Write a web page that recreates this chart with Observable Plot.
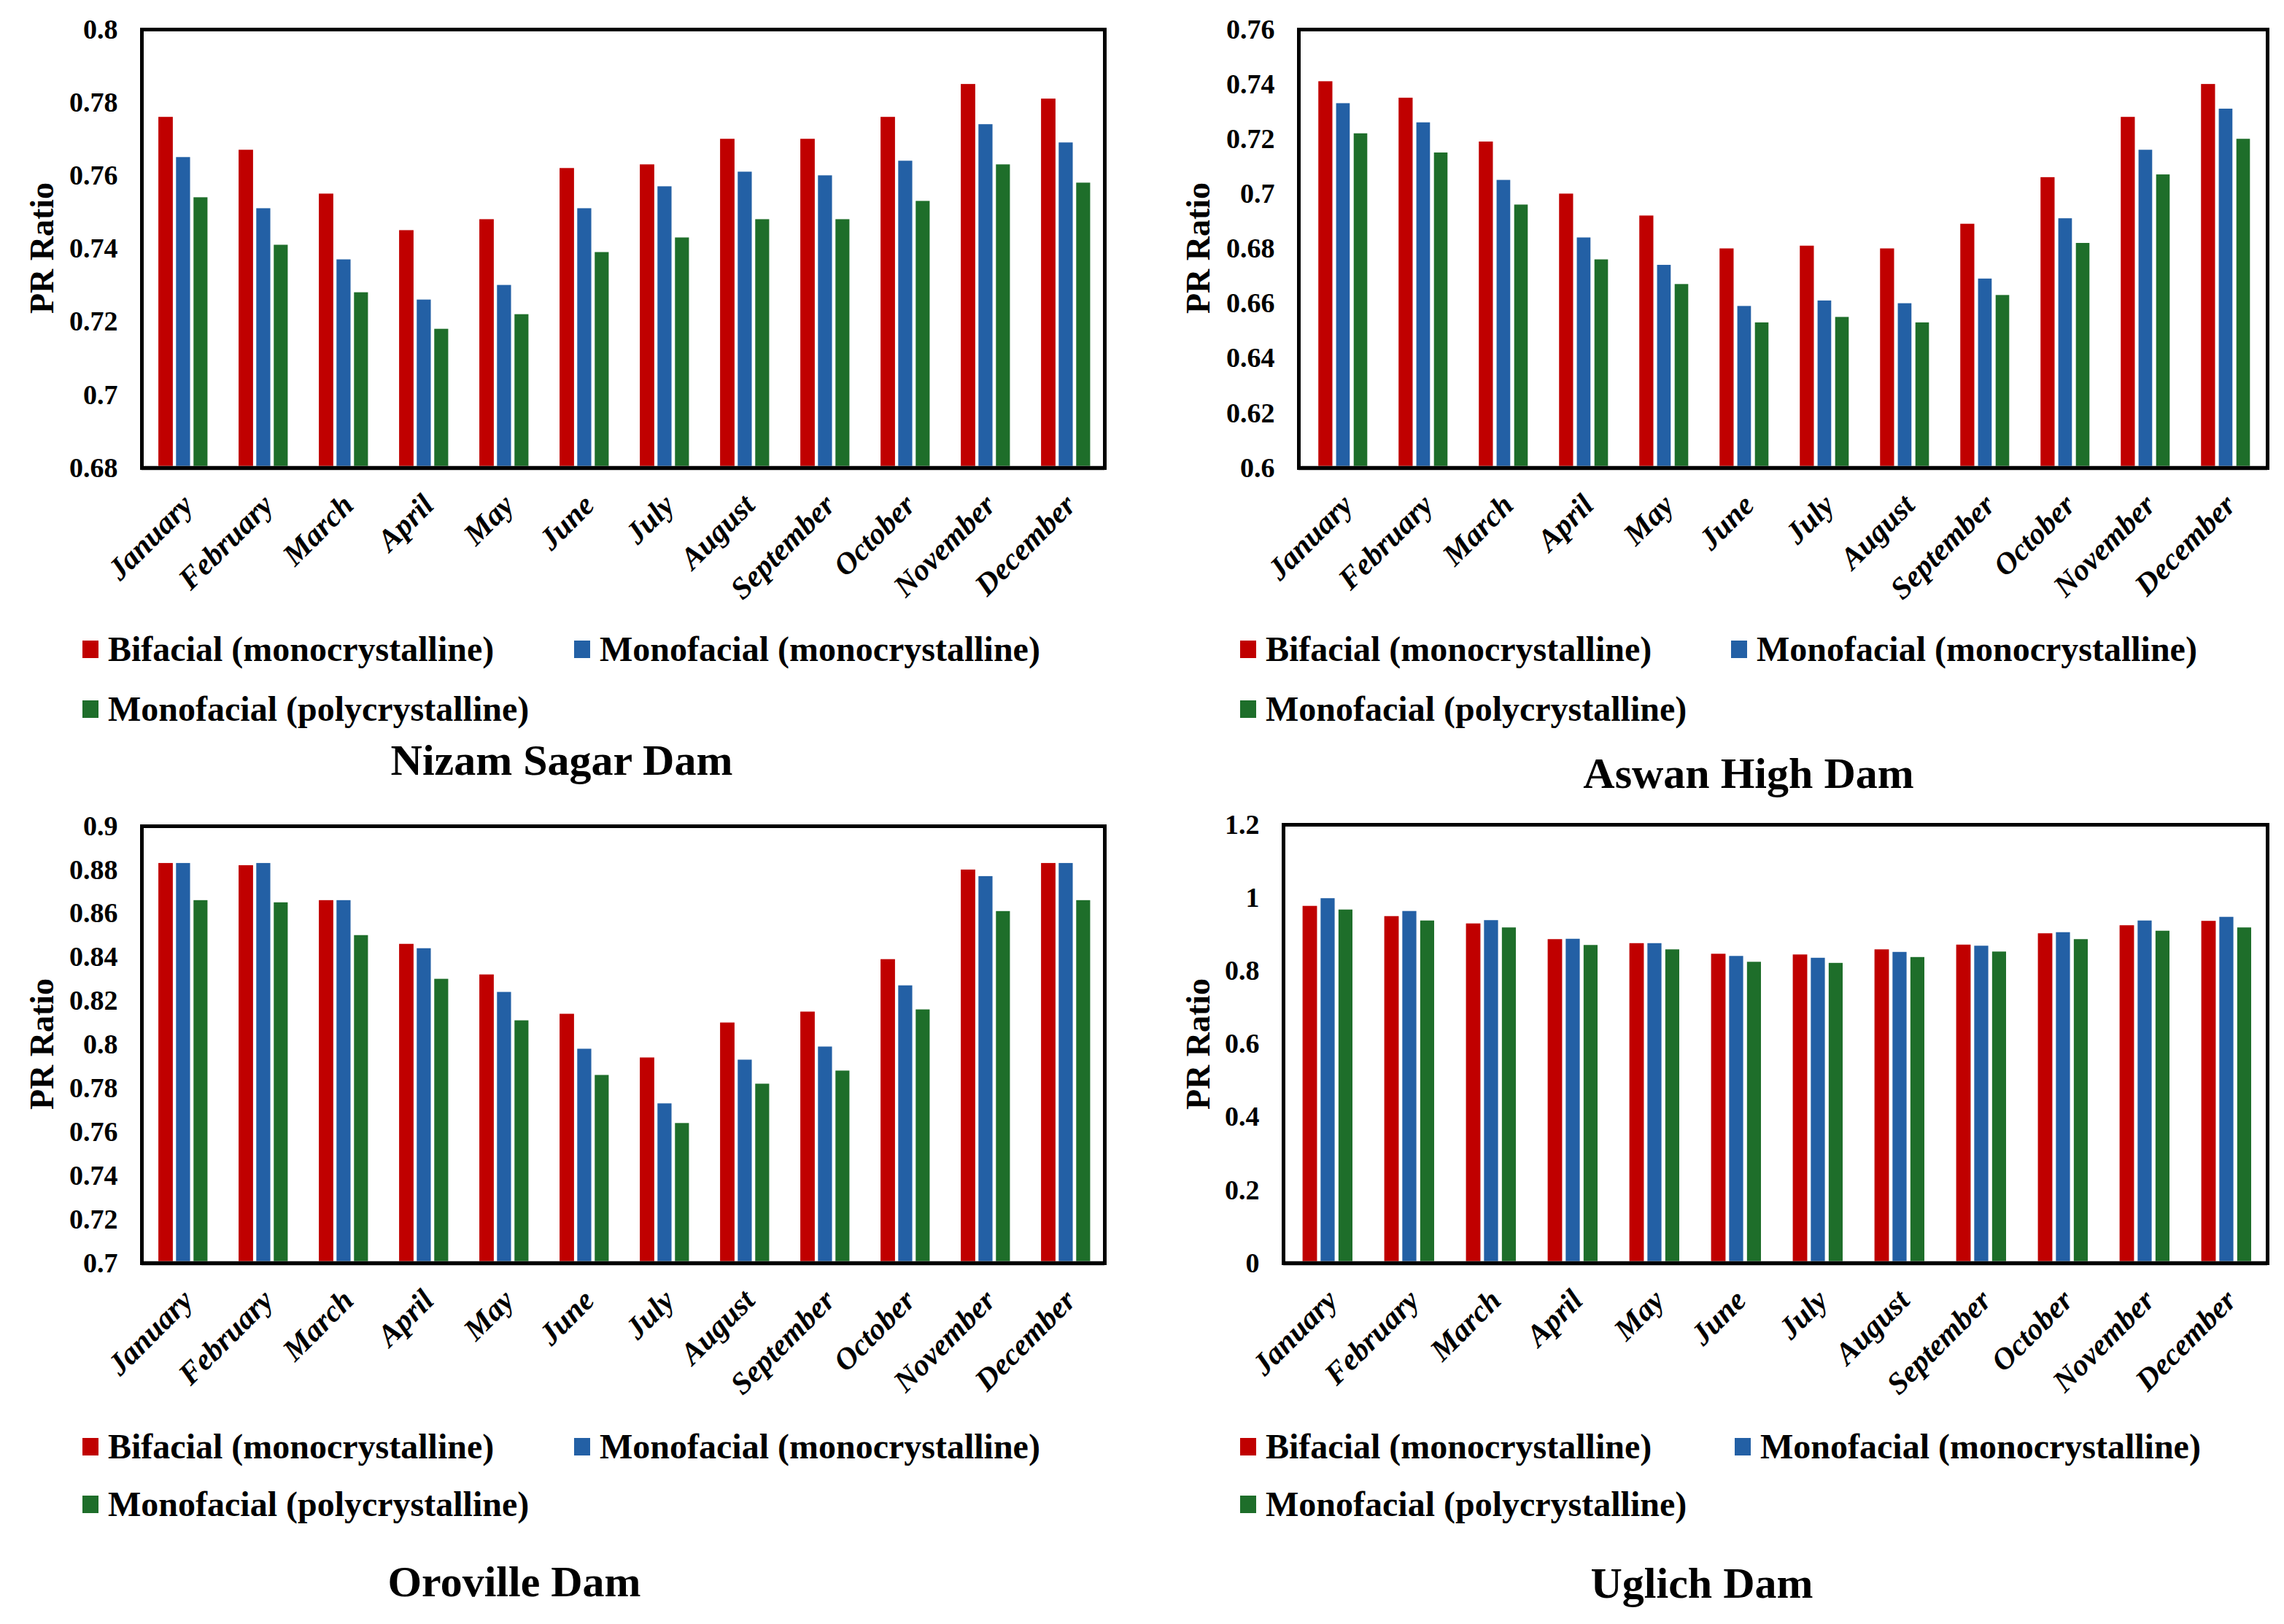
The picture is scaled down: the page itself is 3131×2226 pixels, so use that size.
<!DOCTYPE html>
<html><head><meta charset="utf-8">
<script src="https://cdn.jsdelivr.net/npm/d3@7"></script>
<script src="https://cdn.jsdelivr.net/npm/@observablehq/plot@0.6"></script>
<style>
html,body{margin:0;padding:0;background:#fff;}
#page{position:relative;width:3131px;height:2226px;overflow:hidden;font-family:"Liberation Serif","Times New Roman",serif;font-weight:bold;color:#000;background:#fff;}
.panel{position:absolute;}
.ylab{position:absolute;font-size:46px;white-space:nowrap;transform:translate(-50%,-50%) rotate(-90deg);}
.leg{position:absolute;font-size:48px;white-space:nowrap;display:flex;align-items:center;line-height:1;transform:translateY(-50%);}
.sw{display:inline-block;width:22px;height:24px;margin-right:13px;}
.title{position:absolute;font-size:60px;white-space:nowrap;transform:translate(-50%,-50%);}
#page g[aria-label="x-axis tick label"]{font-style:italic;}
</style></head><body><div id="page"></div>
<script>
const months = ["January","February","March","April","May","June","July","August","September","October","November","December"];
const seriesNames = ["Bifacial (monocrystalline)","Monofacial (monocrystalline)","Monofacial (polycrystalline)"];
const seriesColors = ["#C00000","#2360A5","#1E6E2A"];

const nizamBifacial   = [0.776,0.767,0.755,0.745,0.748,0.762,0.763,0.770,0.770,0.776,0.785,0.781];
const nizamMonoMono   = [0.765,0.751,0.737,0.726,0.730,0.751,0.757,0.761,0.760,0.764,0.774,0.769];
const nizamMonoPoly   = [0.754,0.741,0.728,0.718,0.722,0.739,0.743,0.748,0.748,0.753,0.763,0.758];

const aswanBifacial   = [0.741,0.735,0.719,0.700,0.692,0.680,0.681,0.680,0.689,0.706,0.728,0.740];
const aswanMonoMono   = [0.733,0.726,0.705,0.684,0.674,0.659,0.661,0.660,0.669,0.691,0.716,0.731];
const aswanMonoPoly   = [0.722,0.715,0.696,0.676,0.667,0.653,0.655,0.653,0.663,0.682,0.707,0.720];

const orovilleBifacial = [0.883,0.882,0.866,0.846,0.832,0.814,0.794,0.810,0.815,0.839,0.880,0.883];
const orovilleMonoMono = [0.883,0.883,0.866,0.844,0.824,0.798,0.773,0.793,0.799,0.827,0.877,0.883];
const orovilleMonoPoly = [0.866,0.865,0.850,0.830,0.811,0.786,0.764,0.782,0.788,0.816,0.861,0.866];

const uglichBifacial  = [0.977,0.949,0.929,0.886,0.875,0.846,0.844,0.858,0.871,0.902,0.924,0.936];
const uglichMonoMono  = [0.998,0.963,0.938,0.887,0.875,0.840,0.835,0.851,0.868,0.905,0.937,0.947];
const uglichMonoPoly  = [0.967,0.937,0.918,0.870,0.858,0.824,0.821,0.837,0.852,0.886,0.909,0.918];

const nizamTicks    = [0.68,0.70,0.72,0.74,0.76,0.78,0.80];
const aswanTicks    = [0.60,0.62,0.64,0.66,0.68,0.70,0.72,0.74,0.76];
const orovilleTicks = [0.70,0.72,0.74,0.76,0.78,0.80,0.82,0.84,0.86,0.88,0.90];
const uglichTicks   = [0,0.2,0.4,0.6,0.8,1.0,1.2];

const titles = ["Nizam Sagar Dam","Aswan High Dam","Oroville Dam","Uglich Dam"];

// layout (pixels)
const panels = [
  {title: titles[0], series:[nizamBifacial,nizamMonoMono,nizamMonoPoly], ticks:nizamTicks,
   left:0, top:0, width:1560, height:840, ml:194, mt:40, mr:46, mb:199,
   ylab:[57,340], leg1:[113,890], leg2:[787,890], leg3:[113,972], tpos:[770,1042]},
  {title: titles[1], series:[aswanBifacial,aswanMonoMono,aswanMonoPoly], ticks:aswanTicks,
   left:1580, top:0, width:1551, height:840, ml:200, mt:40, mr:23, mb:199,
   ylab:[1642,340], leg1:[1700,890], leg2:[2373,890], leg3:[1700,972], tpos:[2397,1060]},
  {title: titles[2], series:[orovilleBifacial,orovilleMonoMono,orovilleMonoPoly], ticks:orovilleTicks,
   left:0, top:1100, width:1560, height:840, ml:194, mt:32, mr:46, mb:209,
   ylab:[57,1431], leg1:[113,1983], leg2:[787,1983], leg3:[113,2062], tpos:[705,2168]},
  {title: titles[3], series:[uglichBifacial,uglichMonoMono,uglichMonoPoly], ticks:uglichTicks,
   left:1580, top:1100, width:1551, height:840, ml:179, mt:30, mr:23, mb:209,
   ylab:[1642,1431], leg1:[1700,1983], leg2:[2378,1983], leg3:[1700,2062], tpos:[2333,2170]}
];

const slots = [[0.21,0.39],[0.43,0.605],[0.648,0.822]];
const fmt = d => String(+d.toFixed(2));

const page = document.getElementById("page");

for (const p of panels) {
  const ymin = p.ticks[0], ymax = p.ticks[p.ticks.length-1];
  const bw = (p.width - p.ml - p.mr) / months.length;
  const barMarks = p.series.map((vals, si) => Plot.barY(
    months.map((m, i) => ({month: m, value: vals[i]})),
    {x: "month", y1: () => ymin, y2: "value", fill: seriesColors[si],
     insetLeft: slots[si][0]*bw, insetRight: (1-slots[si][1])*bw}
  ));
  const svg = Plot.plot({
    width: p.width, height: p.height,
    marginLeft: p.ml, marginRight: p.mr, marginTop: p.mt, marginBottom: p.mb,
    style: {fontFamily: '"Liberation Serif","Times New Roman",serif', fontWeight: "bold", fontSize: "38px", background: "white", color: "black", overflow: "visible"},
    x: {type: "band", domain: months, padding: 0, label: null},
    y: {domain: [ymin, ymax], label: null},
    marks: [
      ...barMarks,
      Plot.ruleY([ymin], {stroke: "#7f7f7f", strokeWidth: 6}),
      Plot.frame({stroke: "black", strokeWidth: 5}),
      Plot.axisY({ticks: p.ticks, tickFormat: fmt, tickSize: 0, tickPadding: 33, label: null, fontSize: 38}),
      Plot.axisX({tickRotate: -45, tickSize: 0, tickPadding: 44, label: null, fontSize: 42, fontStyle: "italic", dx: 8})
    ]
  });
  const wrap = document.createElement("div");
  wrap.className = "panel";
  wrap.style.left = p.left + "px"; wrap.style.top = p.top + "px";
  wrap.appendChild(svg);
  page.appendChild(wrap);

  const yl = document.createElement("div");
  yl.className = "ylab"; yl.textContent = "PR Ratio";
  yl.style.left = p.ylab[0] + "px"; yl.style.top = p.ylab[1] + "px";
  page.appendChild(yl);

  [p.leg1, p.leg2, p.leg3].forEach((pos, si) => {
    const lg = document.createElement("div");
    lg.className = "leg";
    lg.style.left = pos[0] + "px"; lg.style.top = pos[1] + "px";
    const sw = document.createElement("span");
    sw.className = "sw"; sw.style.background = seriesColors[si];
    lg.appendChild(sw);
    lg.appendChild(document.createTextNode(seriesNames[si]));
    page.appendChild(lg);
  });

  const t = document.createElement("div");
  t.className = "title"; t.textContent = p.title;
  t.style.left = p.tpos[0] + "px"; t.style.top = p.tpos[1] + "px";
  page.appendChild(t);
}
</script></body></html>
